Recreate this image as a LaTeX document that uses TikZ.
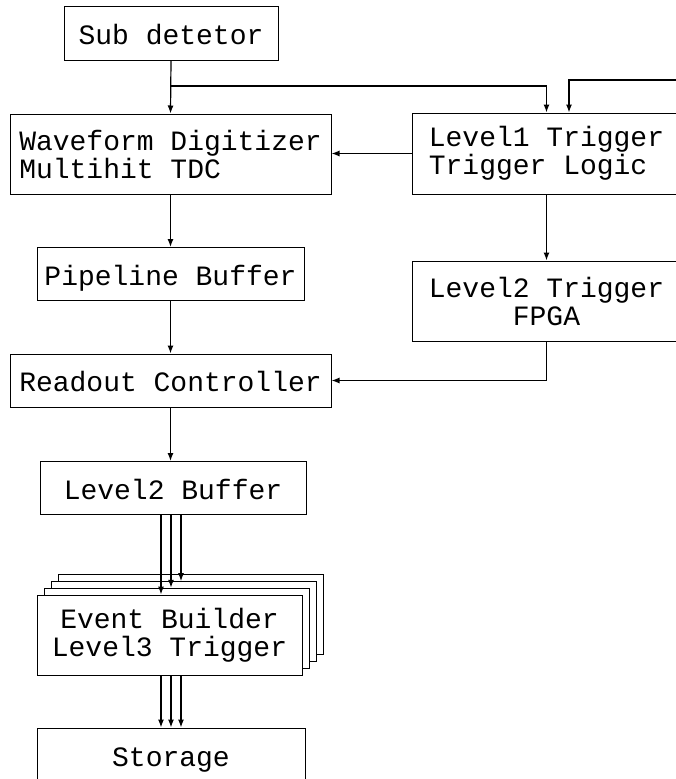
\documentclass[tikz,border=0pt]{standalone}
\usepackage{fontspec}
\newfontfamily\daqfont{Liberation Mono}
\usetikzlibrary{arrows.meta, positioning}

\begin{document}
\begin{tikzpicture}[x=1pt,y=-1pt,
  blk/.style={draw,line width=1pt,fill=white,inner sep=0pt,align=center,
    font=\daqfont\fontsize{28}{28}\selectfont},
  oneline/.style={blk,text height=22pt,text depth=0pt},
  arr/.style={line width=1.2pt,-{Latex[length=8pt,width=6pt]}}]
\clip (0,0) rectangle (676,779);

% Front end chain
\node[oneline,minimum width=214,minimum height=54] (sub) at (171,33) {Sub detetor};
\node[blk,minimum width=321,minimum height=80,align=left] (wave) at (170.5,154) {Waveform Digitizer\\Multihit TDC};
\node[oneline,minimum width=267,minimum height=53] (pipe) at (170.5,274) {Pipeline Buffer};
\node[oneline,minimum width=321,minimum height=53] (readout) at (170.5,380.5) {Readout Controller};
\node[oneline,minimum width=266,minimum height=53] (lbuf) at (173,488) {Level2 Buffer};

% Trigger side
\node[blk,minimum width=269,minimum height=81,align=left] (lone) at (546.5,153.5) {Level1 Trigger\\Trigger Logic};
\node[blk,minimum width=269,minimum height=80] (ltwo) at (546.5,301) {Level2 Trigger\\FPGA};

% Event builder farm (stacked copies)
\foreach \k in {3,2,1}
  \node[blk,minimum width=265,minimum height=80] (eb\k) at (169.5+7*\k,635-6.7*\k) {};
\node[blk,minimum width=265,minimum height=80] (eb) at (169.5,635) {Event Builder\\Level3 Trigger};
\node[oneline,minimum width=268,minimum height=54] (store) at (171,755) {Storage};

% Connectors
\coordinate (split) at (171,86);
\coordinate (fback) at (690,80);
\draw[arr] (sub.south) -- (wave.north);
\draw[arr] (split) -| (lone.north);
\draw[arr] (fback) -| ([xshift=22.5]lone.north);
\draw[arr] (lone.west) -- (lone.west -| wave.east);
\draw[arr] (lone.south) -- (ltwo.north);
\draw[arr] (wave.south) -- (pipe.north);
\draw[arr] (pipe.south) -- (readout.north);
\draw[arr] (ltwo.south) |- (readout.east);
\draw[arr] (readout.south) -- (readout.south |- lbuf.north);
\draw[arr] ([xshift=-12]lbuf.south) -- ([xshift=-12]lbuf.south |- eb.north);
\draw[arr] ([xshift=-2]lbuf.south) -- ([xshift=-2]lbuf.south |- eb1.north);
\draw[arr] ([xshift=8]lbuf.south) -- ([xshift=8]lbuf.south |- eb2.north);
\foreach \s in {-8.5,1.5,11.5}
  \draw[arr] ([xshift=\s]eb.south) -- ([xshift=\s]eb.south |- store.north);
\end{tikzpicture}
\end{document}
